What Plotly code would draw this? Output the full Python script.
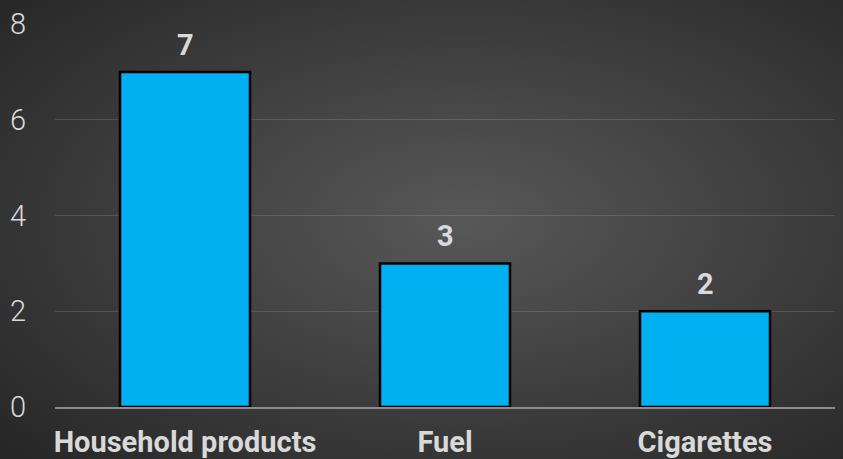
import base64
import plotly.graph_objects as go

categories = ["Household products", "Fuel", "Cigarettes"]
values = [7, 3, 2]
y_ticks = [0, 2, 4, 6, 8]

W, H = 843, 459
L, R, T, B = 55, 8, 24, 52
pw, ph = W - L - R, H - T - B

svg = f'''<svg xmlns="http://www.w3.org/2000/svg" width="{W}" height="{H}" viewBox="0 0 {W} {H}" preserveAspectRatio="none">
<defs><radialGradient id="g" cx="0.55" cy="0.48" r="0.75" gradientUnits="objectBoundingBox">
<stop offset="0" stop-color="#585858"/><stop offset="1" stop-color="#262626"/></radialGradient></defs>
<rect width="{W}" height="{H}" fill="url(#g)"/></svg>'''
bg = "data:image/svg+xml;base64," + base64.b64encode(svg.encode()).decode()

FONT = "Roboto"

fig = go.Figure()
fig.add_trace(go.Bar(
    x=categories, y=values,
    marker=dict(color="#00B0F0", line=dict(color="#000000", width=2.5)),
    hoverinfo="skip",
))
for c, v in zip(categories, values):
    fig.add_annotation(x=c, y=v, text=f"<b>{v}</b>", showarrow=False,
                       yanchor="bottom", yshift=8,
                       font=dict(family=FONT, size=29, color="#d9d9d9"))

fig.add_layout_image(dict(source=bg, xref="paper", yref="paper",
                          x=-L / pw, y=1 + T / ph, sizex=W / pw, sizey=H / ph,
                          xanchor="left", yanchor="top", sizing="stretch",
                          layer="below"))

fig.update_layout(
    width=W, height=H,
    margin=dict(l=L, r=R, t=T, b=B, autoexpand=False),
    paper_bgcolor="#333333",
    plot_bgcolor="rgba(0,0,0,0)",
    bargap=0.5,
    showlegend=False,
    xaxis=dict(
        showgrid=False, showline=True, linecolor="#8c8c8c", linewidth=2,
        tickfont=dict(family=FONT, size=29, color="#d9d9d9", weight="bold"),
        ticks="", ticklabelstandoff=8, automargin=False,
    ),
    yaxis=dict(
        range=[0, 8], tickvals=y_ticks, showgrid=True,
        gridcolor="rgba(255,255,255,0.13)", gridwidth=1,
        zeroline=False, showline=False,
        tickfont=dict(family=FONT, size=29, color="#d9d9d9", weight=300),
        ticks="", ticklabelstandoff=28, automargin=False,
    ),
)

fig.write_html("out.html", config={"displayModeBar": False},
               post_script="document.body.style.margin='0';document.body.style.overflow='hidden';")
